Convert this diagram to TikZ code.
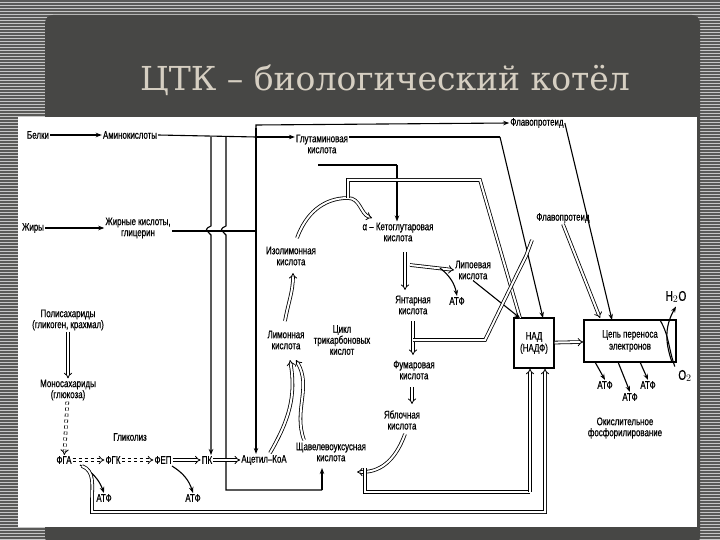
\documentclass[tikz,border=0pt]{standalone}
\usepackage{fontspec}
\setmainfont{Liberation Sans}[FakeStretch=0.72,FakeBold=0.6]
\newfontfamily\titlefont{DejaVu Serif}
\usetikzlibrary{arrows.meta,patterns}
\definecolor{frame}{HTML}{5A5A58}
\definecolor{titlebg}{HTML}{474745}
\definecolor{titletxt}{HTML}{D6CFC2}
\begin{document}
\begin{tikzpicture}[x=1pt,y=-1pt,
  lbl/.style={font=\fontsize{11}{11}\selectfont,align=center,inner sep=1pt},
  ln/.style={line width=1.1pt},
  ar/.style={line width=1.1pt,-{Stealth[length=6pt,width=4.5pt]}},
  dbl/.style={double,double distance=2pt,line width=0.8pt},
  dar/.style={double,double distance=2pt,line width=0.8pt,-{Implies[length=4pt]}},
  bx/.style={draw,line width=1.4pt,font=\fontsize{11}{12}\selectfont,align=center}]
\useasboundingbox (0,0) rectangle (720,540);
\fill[frame] (0,0) rectangle (720,540);
\fill[pattern=horizontal lines,pattern color=gray!45] (0,0) rectangle (720,540);
\fill[titlebg,rounded corners=8pt] (45,15) rectangle (700,545);
\node[font=\titlefont\fontsize{33}{36}\selectfont,text=titletxt] (title) at (385,80) {ЦТК – биологический котёл};
\fill[white] (18,117) rectangle (697,527);
% nodes
\node[lbl] (bel) at (38,135) {Белки};
\node[lbl] (ami) at (130,135) {Аминокислоты};
\node[lbl] (zhi) at (33,228) {Жиры};
\node[lbl] (zhk) at (138,228) {Жирные кислоты,\\глицерин};
\node[lbl] (pol) at (68,320) {Полисахариды\\(гликоген, крахмал)};
\node[lbl] (mon) at (68,390) {Моносахариды\\(глюкоза)};
\node[lbl] (fga) at (64,460) {ФГА};
\node[lbl] (fgk) at (113,460) {ФГК};
\node[lbl] (fep) at (163,460) {ФЕП};
\node[lbl] (pk) at (207,460) {ПК};
\node[lbl] (aco) at (264,460) {Ацетил--КоА};
\node[lbl] (gli) at (130,437) {Гликолиз};
\node[lbl] (atf1) at (104,498) {АТФ};
\node[lbl] (atf2) at (193,498) {АТФ};
\node[lbl] (glu) at (322,144) {Глутаминовая\\кислота};
\node[lbl] (fl1) at (537,123) {Флавопротеид};
\node[lbl] (ake) at (398,232) {α -- Кетоглутаровая\\кислота};
\node[lbl] (izo) at (291,256) {Изолимонная\\кислота};
\node[lbl] (lip) at (473,270) {Липоевая\\кислота};
\node[lbl] (atf3) at (457,301) {АТФ};
\node[lbl] (yan) at (413,305) {Янтарная\\кислота};
\node[lbl] (cyc) at (342,340) {Цикл\\трикарбоновых\\кислот};
\node[lbl] (lim) at (286,340) {Лимонная\\кислота};
\node[lbl] (fum) at (414,370) {Фумаровая\\кислота};
\node[lbl] (yab) at (402,420) {Яблочная\\кислота};
\node[lbl] (shch) at (331,452) {Щавелевоуксусная\\кислота};
\node[lbl] (fl2) at (563,218) {Флавопротеид};
\node[bx,minimum width=40pt,minimum height=50pt] (nad) at (534,343) {НАД\\(НАДФ)};
\node[bx,minimum width=92pt,minimum height=42pt] (chain) at (630,341) {Цепь переноса\\электронов};
\node[font=\fontsize{14}{14}\selectfont] (h2o) at (676,297) {H$_2$O};
\node[font=\fontsize{14}{14}\selectfont] (o2) at (685,376) {O$_2$};
\node[lbl] (atf4) at (605,385) {АТФ};
\node[lbl] (atf5) at (648,385) {АТФ};
\node[lbl] (atf6) at (630,397) {АТФ};
\node[lbl] (oks) at (625,428) {Окислительное\\фосфорилирование};
% protein / fat arrows
\draw[ar] (bel) -- (ami);
\draw[ar] (zhi) -- (zhk);
\draw[ln] (ami.east) -- (256,137);
\draw[ar] (256,137) -- (glu.north west |- 137,137);
\draw[ln] (zhk.east |- 0,231) -- (256,231);
\draw[ar] (211,137) -- (211,226) .. controls (205,229) .. (211,235) -- (pk.north -| 211,0);
\draw[ln] (226,137) -- (226,226) .. controls (220,229) .. (226,235) -- (226,490) -- (322,490);
\draw[ar] (322,490) -- (322,468);
\draw[ar] (256,128) -- (aco.north -| 256,0);
\draw[ar] (256,128) -- (256,125) -- (fl1.west);
\draw[ar] (fl1.east) -- (612,320);
\draw[ln] (glu.east |- 0,137) -- (500,137);
\draw[ar] (500,137) -- (543,318);
\draw[ln] (318,165) -- (397,165);
\draw[ar] (397,165) -- (ake.north -| 397,0);
% carbohydrates
\draw[dar] (pol) -- (mon);
\draw[dar,dashed] (mon) -- (fga);
\draw[dar,dashed] (fga) -- (fgk);
\draw[dar,dashed] (fgk) -- (fep);
\draw[dar] (fep) -- (pk);
\draw[dar] (pk) -- (aco.west);
\draw[ar] (80,465) to[bend left=20] (atf1.north);
\draw[ar] (172,466) to[bend left=20] (atf2.north);
\draw[dbl,-{Implies[length=4pt]}] (82,466) to[out=-20,in=90] (92,500) -- (92,512) -- (545,512) -- (nad.south -| 545,0);
% cycle
\draw[dar] (270,453) to[out=60,in=-80] (290,360);
\draw[dar] (304,440) to[out=110,in=-60] (296,360);
\draw[dar] (285,321) to[out=80,in=-90] (293,273);
\draw[dar] (297,238) to[out=70,in=180] (348,198) to[out=0,in=160] (372,218);
\draw[dbl] (348,198) -- (348,180) -- (480,180) -- (520,318);
\draw[dar] (405,252) -- (405,290);
\draw[dar] (410,265) -- (lip.west);
\draw[ar] (440,268) to[bend left=20] (atf3.north);
\draw[ar] (lip.south) -- (520,318);
\draw[dar] (413,321) -- (413,355);
\draw[dbl] (413,340) -- (485,340) -- (520,268) -- (526,256) -- (532,240);
\draw[dar] (412,387) -- (412,404);
\draw[dar] (405,434) to[out=-110,in=0] (362,472) -- (357,472);
\draw[dbl] (365,468) -- (365,492) -- (530,492);
\draw[dbl,-{Implies[length=4pt]}] (530,492) -- (nad.south -| 530,0);
% right side
\draw[dar] (fl2.south) -- (600,318);
\draw[dar] (nad) -- (chain);
\draw[ar] (672,362) to[out=110,in=-120] (h2o.south);
\draw[ln] (660,320) to[out=-60,in=110] (o2.north west);
\draw[ar] (595,362) -- (atf4.north);
\draw[ar] (618,362) -- (atf6.north);
\draw[ar] (640,362) -- (atf5.north);
\end{tikzpicture}
\end{document}
